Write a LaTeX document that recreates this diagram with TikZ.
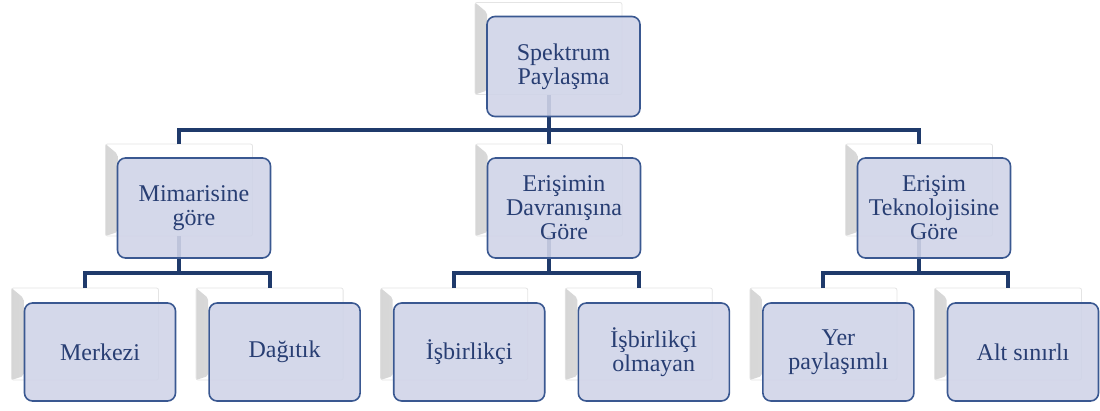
\documentclass[tikz,border=0pt]{standalone}
\usepackage{fontspec}
\setmainfont{Liberation Serif}
\usetikzlibrary{calc}
\definecolor{linecol}{RGB}{31,58,107}
\definecolor{frontfill}{RGB}{208,212,232}
\definecolor{frontborder}{RGB}{58,88,145}
\definecolor{textcol}{RGB}{40,62,115}
\definecolor{backedge}{RGB}{228,228,228}
\tikzset{
  backbox/.style={draw=backedge, line width=0.8pt, fill=white, rounded corners=2pt,
    minimum width=147pt, minimum height=92pt, inner sep=0pt, outer sep=0pt,
    path picture={\fill[left color=black!16, right color=black!6]
      (path picture bounding box.north west) -- ++(12,10)
      -- ($(path picture bounding box.south west)+(12,-4)$)
      -- (path picture bounding box.south west) -- cycle;}},
  frontbox/.style={draw=frontborder, line width=1.6pt, fill=frontfill, fill opacity=0.9,
    text opacity=1, rounded corners=8pt, minimum width=153pt, minimum height=100pt,
    inner sep=2pt, align=center, text=textcol, font=\fontsize{24}{24}\selectfont},
  smallfront/.style={frontbox, minimum width=151pt, minimum height=98pt},
  conn/.style={draw=linecol, line width=4pt, line join=miter}
}
\begin{document}
\begin{tikzpicture}[x=1pt,y=-1pt]
\useasboundingbox (0,0) rectangle (1100,410);
% back shapes (centre = front centre + (-15,-18))
\node[backbox] (tb) at (548.5,48.5) {};
\node[backbox] (m1b) at (179,190) {};
\node[backbox] (m2b) at (549,190) {};
\node[backbox] (m3b) at (919,190) {};
\node[backbox] (c1b) at (85,334) {};
\node[backbox] (c2b) at (269.6,334) {};
\node[backbox] (c3b) at (454.2,334) {};
\node[backbox] (c4b) at (638.8,334) {};
\node[backbox] (c5b) at (823.4,334) {};
\node[backbox] (c6b) at (1008,334) {};
% bus coordinates
\coordinate (bus0) at (0,130);
\coordinate (busA) at (0,273);
% connectors
\draw[conn] (tb.south) -- (tb.south |- bus0);
\draw[conn] (m1b.north) |- (m3b.north |- bus0) -- (m3b.north);
\draw[conn] (m2b.north) -- (m2b.north |- bus0);
\draw[conn] (m1b.south) -- (m1b.south |- busA);
\draw[conn] (c1b.north) |- (c2b.north |- busA) -- (c2b.north);
\draw[conn] (m2b.south) -- (m2b.south |- busA);
\draw[conn] (c3b.north) |- (c4b.north |- busA) -- (c4b.north);
\draw[conn] (m3b.south) -- (m3b.south |- busA);
\draw[conn] (c5b.north) |- (c6b.north |- busA) -- (c6b.north);
% front boxes
\node[frontbox] (top) at (563.5,66.5) {Spektrum\\Paylaşma};
\node[frontbox] (m1) at (194,208) {Mimarisine\\göre};
\node[frontbox] (m2) at (564,208) {Erişimin\\Davranışına\\Göre};
\node[frontbox] (m3) at (934,208) {Erişim\\Teknolojisine\\Göre};
\node[smallfront] (c1) at (100,352) {Merkezi};
\node[smallfront] (c2) at (284.6,352) {Dağıtık};
\node[smallfront] (c3) at (469.2,352) {İşbirlikçi};
\node[smallfront] (c4) at (653.8,352) {İşbirlikçi\\olmayan};
\node[smallfront] (c5) at (838.4,352) {Yer\\paylaşımlı};
\node[smallfront] (c6) at (1023,352) {Alt sınırlı};
\end{tikzpicture}
\end{document}
